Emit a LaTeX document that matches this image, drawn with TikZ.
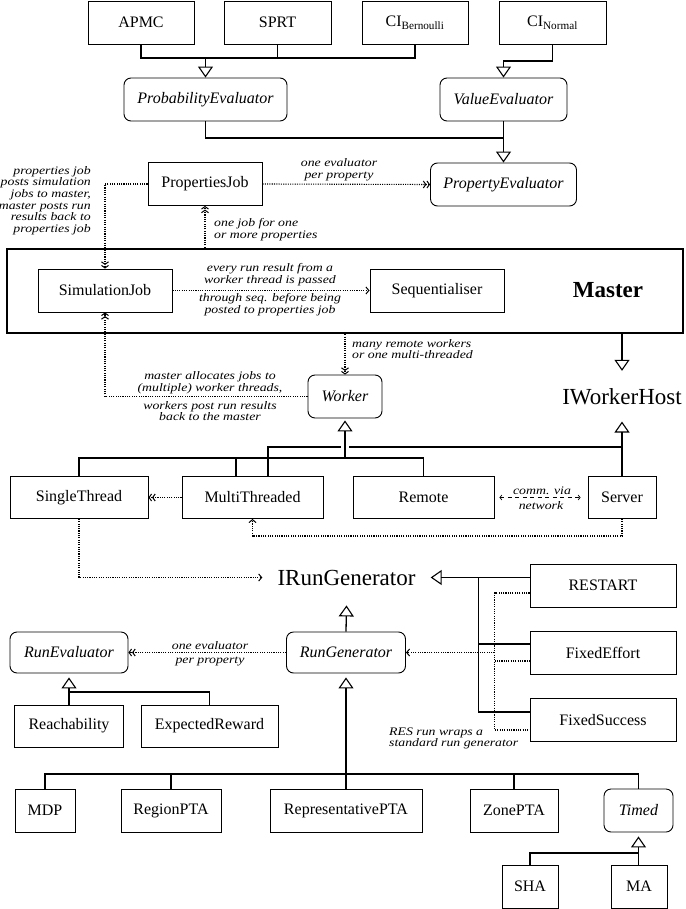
\documentclass[tikz,border=0pt]{standalone}
\usepackage{fontspec}
\setmainfont{Liberation Serif}
\newfontfamily\lblfont[FakeStretch=1.2]{Liberation Serif}
\usetikzlibrary{arrows.meta}
\newcommand\myboxfont{\fontsize{16}{19}\selectfont}
\newcommand\mylblf{\lblfont\itshape\fontsize{11.5}{11.7}\selectfont}
\newcommand\mybigfont{\fontsize{23}{27}\selectfont}
\tikzset{
  box/.style={draw, line width=0.9pt, inner sep=0pt, minimum height=43pt, font=\myboxfont},
  abox/.style={box, rounded corners=7pt, font=\myboxfont\itshape},
  conn/.style={line width=1.3pt},
  inh/.style={conn, -{Triangle[open, length=11pt, width=15pt, line width=1.1pt]}},
  dotl/.style={line width=1.1pt, dash pattern=on 1.1pt off 1.2pt},
  dot1/.style={dotl, -{Straight Barb[length=3pt, width=7pt, line width=1pt]}},
  dot2/.style={dotl, -{Straight Barb[length=2.5pt, width=7pt, line width=1pt] Straight Barb[length=2.5pt, width=7pt, line width=1pt]}},
  lbl/.style={font=\mylblf, align=center, inner sep=0pt},
}
\begin{document}
\begin{tikzpicture}[x=1pt,y=-1pt]
\useasboundingbox (0,0) rectangle (685,909);
% top row
\node[box, minimum width=106pt] (apmc) at (141,22.5) {APMC};
\node[box, minimum width=107pt] (sprt) at (277.5,22.5) {SPRT};
\node[box, minimum width=106pt] (cib) at (415,22.5) {CI\textsubscript{Bernoulli}};
\node[box, minimum width=107pt] (cin) at (552.5,22.5) {CI\textsubscript{Normal}};
\node[abox, minimum width=163pt] (probev) at (205.5,99.5) {ProbabilityEvaluator};
\node[abox, minimum width=127pt] (valev) at (503.5,99.5) {ValueEvaluator};
\node[abox, minimum width=146pt] (propev) at (503.5,184.5) {PropertyEvaluator};
\node[box, minimum width=114pt] (propjob) at (205,184) {PropertiesJob};
% master
\node[draw, line width=2.5pt, inner sep=0pt, minimum width=676pt, minimum height=84pt] (master) at (345,291) {};
\node[font=\mybigfont\bfseries, inner sep=0pt] (masterlbl) at (608,290) {Master};
\node[box, minimum width=134pt] (simjob) at (105,290.5) {SimulationJob};
\node[box, minimum width=134pt] (seq) at (437,290.5) {Sequentialiser};
% workers
\node[abox, minimum width=74pt] (worker) at (345,396.5) {Worker};
\node[font=\mybigfont, inner xsep=0pt, inner ysep=17pt, anchor=base] (iwh) at (622,404) {IWorkerHost};
\node[box, minimum width=138pt, minimum height=42pt] (single) at (79,497.5) {SingleThread};
\node[box, minimum width=141pt, minimum height=42pt] (multi) at (252.5,497.5) {MultiThreaded};
\node[box, minimum width=141pt, minimum height=42pt] (remote) at (423.5,497.5) {Remote};
\node[box, minimum width=68pt, minimum height=42pt] (server) at (622,497.5) {Server};
% run generators
\node[font=\mybigfont, inner xsep=15pt, inner ysep=20pt, anchor=base] (irg) at (346.5,585) {IRunGenerator};
\node[box, minimum width=146pt] (restart) at (603,585.5) {RESTART};
\node[box, minimum width=146pt] (fixedeffort) at (603,653) {FixedEffort};
\node[box, minimum width=146pt] (fixedsuccess) at (603,720) {FixedSuccess};
\node[abox, minimum width=119pt, minimum height=41pt] (rungen) at (346,652.5) {RunGenerator};
\node[abox, minimum width=118pt, minimum height=41pt] (runev) at (69,652.5) {RunEvaluator};
\node[box, minimum width=109pt, minimum height=42pt] (reach) at (69,726) {Reachability};
\node[box, minimum width=137pt, minimum height=42pt] (expr) at (209.5,726) {ExpectedReward};
\node[box, minimum width=60pt] (mdp) at (45,810.5) {MDP};
\node[box, minimum width=100pt] (region) at (171,810.5) {RegionPTA};
\node[box, minimum width=152pt] (repr) at (346,810.5) {RepresentativePTA};
\node[box, minimum width=88pt] (zone) at (514,810.5) {ZonePTA};
\node[abox, minimum width=69pt] (timed) at (638.5,810.5) {Timed};
\node[box, minimum width=56pt] (sha) at (530,886.5) {SHA};
\node[box, minimum width=56pt] (ma) at (639,886.5) {MA};

% labels
\node[lbl, align=right, anchor=east] (l1) at (91,200.5) {properties job\\posts simulation\\jobs to master,\\master posts run\\results back to\\properties job};
\node[lbl] (l2) at (339,170) {one evaluator\\per property};
\node[lbl, align=left, anchor=west] (l3) at (214,230) {one job for one\\or more properties};
\node[lbl] (l4) at (270,275) {every run result from a\\worker thread is passed};
\node[lbl] (l5) at (270,305) {through seq. before being\\posted to properties job};
\node[lbl, align=left, anchor=west] (l6) at (352,349) {many remote workers\\or one multi-threaded};
\node[lbl] (l7) at (210,382.5) {master allocates jobs to\\(multiple) worker threads,};
\node[lbl] (l8) at (210,411) {workers post run results\\back to the master};
\node[lbl] (l9) at (542,491) {comm. via};
\node[lbl] (l10) at (541,506) {network};
\node[lbl] (l11) at (210,645.5) {one evaluator};
\node[lbl] (l12) at (210,661) {per property};
\node[lbl, align=left, anchor=west] (l13) at (389,738.5) {RES run wraps a\\standard run generator};

% top inheritance
\draw[conn] (apmc.south) |- (cib.south |- 0,58) -- (cib.south);
\draw[conn] (sprt.south) -- (sprt.south |- 0,58);
\draw[inh] (probev.north |- 0,58) -- (probev.north);
\draw[inh] (cin.south) |- (valev.north |- 0,61) -- (valev.north);
\draw[conn] (probev.south) |- (valev.south |- 0,138);
\draw[inh] (valev.south) -- (propev.north);
% jobs
\draw[dot2] (propjob.east) -- (propev.west);
\draw[dot2] (propjob.west) -| (simjob.north);
\draw[dot2] (propjob.south |- master.north) -- (propjob.south);
\draw[dot1] (simjob.east) -- (seq.west);
\draw[dot2] (worker.north |- master.south) -- (worker.north);
\draw[inh] (iwh.north |- master.south) -- (iwh.north);
\draw[dot2] (worker.west) -| (simjob.south);
% worker hierarchy
\draw[conn] (single.north) |- (remote.north |- 0,458) -- (remote.north);
\draw[conn] ([xshift=-16.5pt]multi.north) -- ++(0,-19);
\draw[conn] ([xshift=15.5pt]multi.north) |- ([xshift=-4pt]worker.south |- 0,447);
\draw[conn] ([xshift=4pt]worker.south |- 0,447) -- (server.north |- 0,447);
\draw[inh, shorten >=2pt] (worker.south |- 0,458) -- (worker.south);
\draw[inh] (server.north) -- (iwh.south);
\draw[dot2] (multi.west) -- (single.east);
\draw[line width=0.7pt, dash pattern=on 4pt off 3.5pt, {Straight Barb[length=2pt,width=5pt]}-{Straight Barb[length=2pt,width=5pt]}, shorten <=5pt, shorten >=7pt] (remote.east) -- (server.west);
\draw[dot1] (server.south) -- ++(0,17) -| (multi.south);
\draw[dot1] (single.south) |- (irg.west);
% RES group
\coordinate (sb) at ([xshift=-51pt]restart.west |- irg.east);
\coordinate (fe1) at ([yshift=9pt]fixedeffort.west);
\coordinate (fs1) at ([yshift=8pt]fixedsuccess.west);
\coordinate (rs2) at ([yshift=-7.5pt]restart.west);
\coordinate (fe2) at ([yshift=-8pt]fixedeffort.west);
\coordinate (fs2) at ([yshift=-10pt]fixedsuccess.west);
\coordinate (db) at ([xshift=-35pt]rs2);
\draw[inh] (restart.west |- irg.east) -- (irg.east);
\draw[conn] (sb) |- (fs1);
\draw[conn] (sb |- fe1) -- (fe1);
\draw[dotl] (rs2) -- (db) |- (fs2);
\draw[dotl] (db |- fe2) -- (fe2);
\draw[dot1] (db |- rungen.east) -- (rungen.east);
% run generator hierarchy
\draw[dot2] (rungen.west) -- (runev.east);
\draw[inh] (rungen.north) -- (irg.south);
\draw[inh, shorten >=4pt] (reach.north) -- (runev.south);
\draw[conn] (reach.north |- 0,692) -| (expr.north);
\draw[conn] (mdp.north) |- (timed.north |- 0,774) -- (timed.north);
\draw[conn] (region.north) -- (region.north |- 0,774);
\draw[conn] (zone.north) -- (zone.north |- 0,774);
\draw[inh, shorten >=4pt] (repr.north) -- (rungen.south);
\draw[inh, shorten >=4pt] (ma.north -| timed.south) -- (timed.south);
\draw[conn] (sha.north) |- (timed.south |- 0,853);
\end{tikzpicture}
\end{document}
